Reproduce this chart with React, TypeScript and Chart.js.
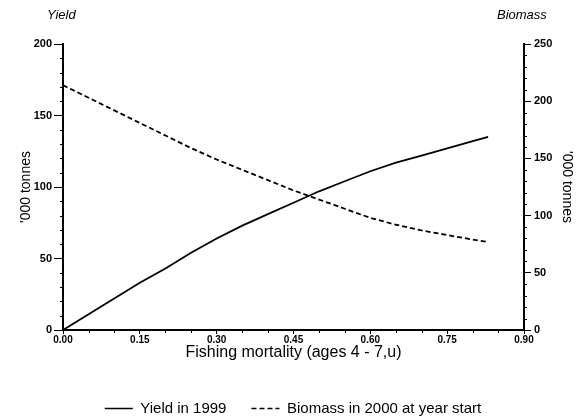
import React, { useEffect, useRef } from "react";
import { Chart, registerables } from "chart.js";

Chart.register(...registerables);

const mortality = [0, 0.05, 0.1, 0.15, 0.2, 0.25, 0.3, 0.35, 0.4, 0.45, 0.5, 0.55, 0.6, 0.65, 0.7, 0.75, 0.8, 0.83];
const yieldValues = [0, 11, 22, 33, 43, 54, 64, 73, 81, 89, 97, 104, 111, 117, 122, 127, 132, 135];
const biomassValues = [214, 203, 192, 181, 170, 159, 149, 140, 131, 122, 114, 106, 98, 92, 87, 83, 79, 77];
const xTickValues = [0, 0.15, 0.3, 0.45, 0.6, 0.75, 0.9];
const yieldTickValues = [0, 50, 100, 150, 200];
const biomassTickValues = [0, 50, 100, 150, 200, 250];

const FONT = "'Liberation Sans', Arial, sans-serif";

const decor = {
  id: "decor",
  afterDraw(chart: any) {
    const { ctx, chartArea: a } = chart;
    const x = chart.scales.x;
    const y = chart.scales.y;
    const y1 = chart.scales.y1;
    ctx.save();
    ctx.strokeStyle = "#000";
    ctx.lineWidth = 1;
    ctx.beginPath();
    for (let v = 10; v < 200; v += 10) {
      if (v % 50 === 0) continue;
      const p = Math.round(y.getPixelForValue(v)) + 0.5;
      ctx.moveTo(a.left - 3, p);
      ctx.lineTo(a.left, p);
    }
    for (let v = 10; v < 250; v += 10) {
      if (v % 50 === 0) continue;
      const p = Math.round(y1.getPixelForValue(v)) + 0.5;
      ctx.moveTo(a.right, p);
      ctx.lineTo(a.right + 3, p);
    }
    for (let i = 1; i < 18; i++) {
      if (i % 3 === 0) continue;
      const p = Math.round(x.getPixelForValue(i * 0.05)) + 0.5;
      ctx.moveTo(p, a.bottom);
      ctx.lineTo(p, a.bottom + 3);
    }
    ctx.stroke();
    ctx.fillStyle = "#000";
    ctx.font = `italic 13px ${FONT}`;
    ctx.textBaseline = "middle";
    ctx.textAlign = "left";
    ctx.fillText("Yield", 47, 15);
    ctx.fillText("Biomass", 497, 15);
    ctx.restore();
  },
};

export default function App() {
  const ref = useRef<HTMLCanvasElement | null>(null);
  useEffect(() => {
    if (!ref.current) return;
    const chart = new Chart(ref.current, {
      type: "line",
      data: {
        datasets: [
          {
            label: "Yield in 1999",
            data: mortality.map((m, i) => ({ x: m, y: yieldValues[i] })),
            borderColor: "#000",
            backgroundColor: "#000",
            borderWidth: 1.8,
            pointRadius: 0,
            tension: 0,
            yAxisID: "y",
          },
          {
            label: "Biomass in 2000 at year start",
            data: mortality.map((m, i) => ({ x: m, y: biomassValues[i] })),
            borderColor: "#000",
            backgroundColor: "#000",
            borderWidth: 1.8,
            borderDash: [5, 3],
            pointRadius: 0,
            tension: 0,
            yAxisID: "y1",
          },
        ],
      },
      options: {
        animation: false,
        responsive: false,
        layout: { padding: { top: 44, left: 0, right: 0, bottom: 0 } },
        plugins: {
          tooltip: { enabled: false },
          legend: {
            position: "bottom",
            maxHeight: 42,
            labels: {
              usePointStyle: true,
              pointStyle: "line",
              pointStyleWidth: 28,
              padding: 25,
              color: "#000",
              font: { family: FONT, size: 15 },
              generateLabels: (c: any) => {
                const items = Chart.defaults.plugins.legend.labels.generateLabels(c);
                return items.map((it: any) => {
                  const ds: any = c.data.datasets[it.datasetIndex];
                  return { ...it, lineDash: ds.borderDash || [], lineWidth: 1.5, strokeStyle: "#000" };
                });
              },
            },
          },
        },
        scales: {
          x: {
            type: "linear",
            min: 0,
            max: 0.9,
            afterFit: (s: any) => {
              s.height = 46;
            },
            afterBuildTicks: (s: any) => {
              s.ticks = xTickValues.map((v) => ({ value: v }));
            },
            ticks: {
              color: "#000",
              padding: 0,
              maxRotation: 0,
              autoSkip: false,
              font: { family: FONT, size: 10, weight: "bold" },
              callback: (v: any) => Number(v).toFixed(2),
            },
            grid: { drawOnChartArea: false, drawTicks: true, tickLength: 4, color: "#000", lineWidth: 1 },
            border: { display: true, color: "#000", width: 2 },
            title: {
              display: true,
              text: "Fishing mortality (ages 4 - 7,u)",
              color: "#000",
              font: { family: FONT, size: 16 },
              padding: { top: 0, bottom: 14 },
            },
          },
          y: {
            type: "linear",
            position: "left",
            min: 0,
            max: 200,
            afterFit: (s: any) => {
              s.width = 63;
            },
            afterBuildTicks: (s: any) => {
              s.ticks = yieldTickValues.map((v) => ({ value: v }));
            },
            ticks: {
              color: "#000",
              padding: 2,
              font: { family: FONT, size: 11, weight: "bold" },
            },
            grid: { drawOnChartArea: false, drawTicks: true, tickLength: 9, color: "#000", lineWidth: 1 },
            border: { display: true, color: "#000", width: 2 },
            title: {
              display: true,
              text: "'000 tonnes",
              color: "#000",
              font: { family: FONT, size: 14 },
              padding: { top: 18, bottom: 0 },
            },
          },
          y1: {
            type: "linear",
            position: "right",
            min: 0,
            max: 250,
            afterFit: (s: any) => {
              s.width = 62;
            },
            afterBuildTicks: (s: any) => {
              s.ticks = biomassTickValues.map((v) => ({ value: v }));
            },
            ticks: {
              color: "#000",
              padding: 3,
              font: { family: FONT, size: 11, weight: "bold" },
            },
            grid: { drawOnChartArea: false, drawTicks: true, tickLength: 7, color: "#000", lineWidth: 1 },
            border: { display: true, color: "#000", width: 2 },
            title: {
              display: true,
              text: "'000 tonnes",
              color: "#000",
              font: { family: FONT, size: 14 },
              padding: { top: 11, bottom: 0 },
            },
          },
        },
      },
      plugins: [decor],
    });
    return () => chart.destroy();
  }, []);
  return (
    <div style={{ position: "fixed", left: 0, top: 0, width: 586, height: 418, background: "#fff" }}>
      <canvas ref={ref} width={586} height={418} style={{ display: "block", width: 586, height: 418 }} />
    </div>
  );
}
